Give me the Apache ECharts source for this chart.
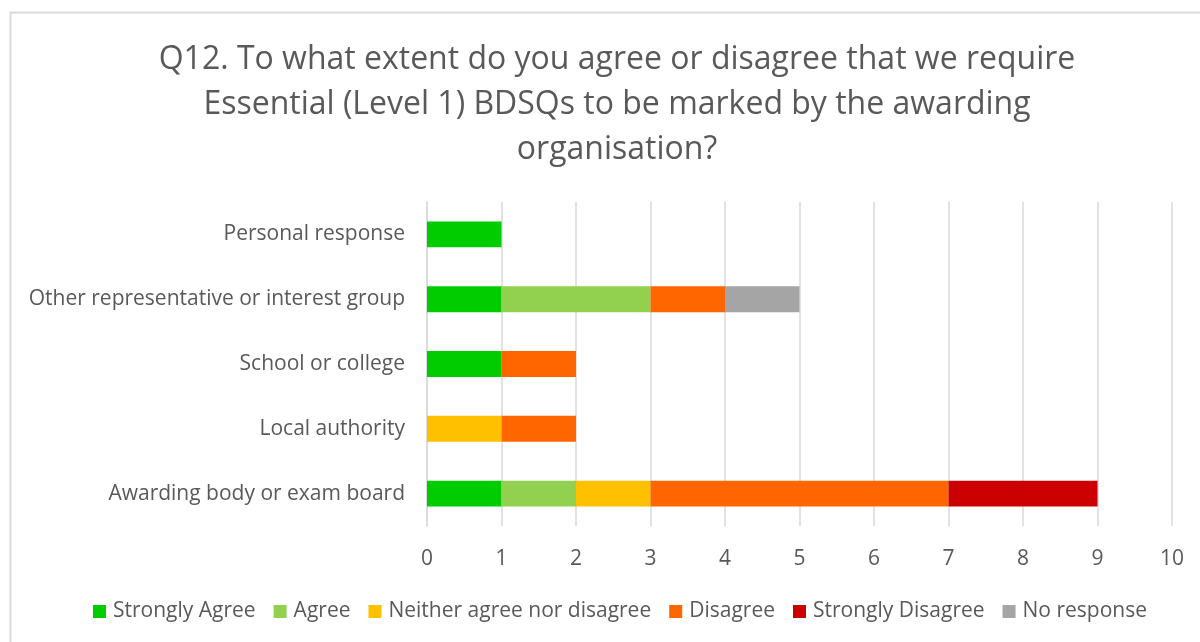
<!DOCTYPE html>
<html>
<head>
<meta charset="utf-8">
<script src="https://cdn.jsdelivr.net/npm/echarts@6/dist/echarts.min.js"></script>
<style>
html,body{margin:0;padding:0;background:#fff;}
#chart{width:1200px;height:642px;}
</style>
</head>
<body>
<div id="chart"></div>
<script>
// Respondent groups (bottom to top on the category axis)
const categories = [
  'Awarding body or exam board',
  'Local authority',
  'School or college',
  'Other representative or interest group',
  'Personal response'
];

// Counts per response option, in the same order as categories
const stronglyAgree    = [1, 0, 1, 1, 1];
const agree            = [1, 0, 0, 2, 0];
const neither          = [1, 1, 0, 0, 0];
const disagree         = [4, 1, 1, 1, 0];
const stronglyDisagree = [2, 0, 0, 0, 0];
const noResponse       = [0, 0, 0, 1, 0];

const seriesNames = ['Strongly Agree', 'Agree', 'Neither agree nor disagree', 'Disagree', 'Strongly Disagree', 'No response'];
const seriesData = [stronglyAgree, agree, neither, disagree, stronglyDisagree, noResponse];
const seriesColors = ['#00CC00', '#92D050', '#FFC000', '#FF6600', '#CC0000', '#A5A5A5'];

const FONT = '"Open Sans", sans-serif';
const TXT = '#595959';

const chart = echarts.init(document.getElementById('chart'), null, {renderer: 'canvas'});

chart.setOption({
  backgroundColor: '#fff',
  animation: false,
  graphic: [{
    type: 'rect',
    shape: {x: 10.5, y: 12.5, width: 1300, height: 700},
    style: {fill: 'none', stroke: '#D9D9D9', lineWidth: 2},
    silent: true
  }],
  title: {
    text: 'Q12. To what extent do you agree or disagree that we require\nEssential (Level 1) BDSQs to be marked by the awarding\norganisation?',
    left: 612,
    top: 32,
    textAlign: 'center',
    textStyle: {fontFamily: FONT, fontSize: 32, fontWeight: 'normal', color: TXT, lineHeight: 45}
  },
  legend: {
    bottom: 15,
    left: 88,
    itemWidth: 13,
    itemHeight: 13,
    itemGap: 18,
    icon: 'rect',
    textStyle: {fontFamily: FONT, fontSize: 21, color: TXT, padding: [0, 0, 0, 2]},
    data: seriesNames
  },
  grid: {left: 427, right: 28, top: 202, bottom: 116},
  xAxis: {
    type: 'value',
    min: 0,
    max: 10,
    interval: 1,
    axisLine: {show: false},
    axisTick: {show: false},
    splitLine: {lineStyle: {color: '#D9D9D9', width: 1.5}},
    axisLabel: {fontFamily: FONT, fontSize: 21, color: TXT, margin: 23}
  },
  yAxis: {
    type: 'category',
    data: categories,
    axisLine: {lineStyle: {color: '#D9D9D9', width: 1.5}},
    axisTick: {show: false},
    axisLabel: {fontFamily: FONT, fontSize: 21, color: TXT, margin: 22}
  },
  series: seriesNames.map((name, i) => ({
    name: name,
    type: 'bar',
    stack: 'total',
    barCategoryGap: '60%',
    itemStyle: {color: seriesColors[i]},
    data: seriesData[i]
  }))
});
</script>
</body>
</html>
